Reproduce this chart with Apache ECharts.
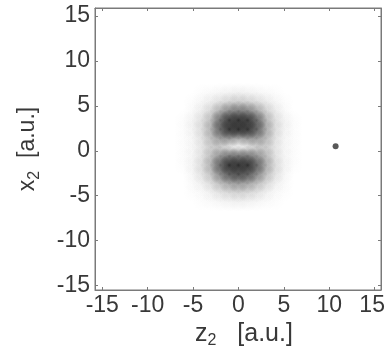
<!DOCTYPE html>
<html>
<head>
<meta charset="utf-8">
<script src="https://cdn.jsdelivr.net/npm/echarts@6/dist/echarts.min.js"></script>
<style>
  html, body { margin: 0; padding: 0; background: #fff; }
  #chart { width: 386px; height: 346px; }
</style>
</head>
<body>
<div id="chart"></div>
<script>
// axis ticks that carry a label
var tickVals = [-15, -10, -5, 0, 5, 10, 15];

// sample grid of the density blob (darkness 0..1)
var zGrid = [-6, -5, -4, -3, -2, -1, 0, 1, 2, 3, 4, 5, 6];
var xGrid = [6.4, 5.4, 4.4, 3.4, 2.4, 1.4, 0.4, -0.6, -1.6, -2.6, -3.6, -4.6, -5.6];
var density = [
  [0, 0, 0.01, 0.02, 0.03, 0.04, 0.05, 0.04, 0.03, 0.02, 0.01, 0, 0],
  [0, 0.01, 0.03, 0.06, 0.1, 0.14, 0.16, 0.14, 0.11, 0.07, 0.03, 0.01, 0],
  [0, 0.02, 0.06, 0.13, 0.28, 0.42, 0.48, 0.44, 0.3, 0.15, 0.07, 0.02, 0],
  [0.01, 0.04, 0.1, 0.22, 0.55, 0.84, 0.9, 0.86, 0.58, 0.25, 0.1, 0.04, 0.01],
  [0.01, 0.04, 0.11, 0.26, 0.6, 0.88, 0.92, 0.88, 0.62, 0.28, 0.11, 0.04, 0.01],
  [0.01, 0.03, 0.09, 0.21, 0.34, 0.38, 0.28, 0.36, 0.34, 0.23, 0.09, 0.03, 0.01],
  [0.01, 0.03, 0.08, 0.16, 0.15, 0.03, 0, 0.03, 0.14, 0.16, 0.08, 0.03, 0.01],
  [0.01, 0.03, 0.09, 0.21, 0.38, 0.52, 0.52, 0.52, 0.38, 0.23, 0.09, 0.03, 0.01],
  [0.01, 0.04, 0.11, 0.26, 0.6, 0.9, 0.92, 0.9, 0.6, 0.28, 0.11, 0.04, 0.01],
  [0, 0.03, 0.09, 0.19, 0.42, 0.64, 0.72, 0.64, 0.42, 0.21, 0.09, 0.03, 0],
  [0, 0.02, 0.05, 0.11, 0.21, 0.3, 0.34, 0.3, 0.21, 0.12, 0.05, 0.02, 0],
  [0, 0.01, 0.02, 0.05, 0.09, 0.12, 0.14, 0.12, 0.09, 0.05, 0.02, 0.01, 0],
  [0, 0, 0.01, 0.02, 0.03, 0.04, 0.05, 0.04, 0.03, 0.02, 0.01, 0, 0]
];

// the single point on the right
var dotPoint = [[10.7, 0.5]];

var blobData = [];
for (var i = 0; i < xGrid.length; i++) {
  for (var j = 0; j < zGrid.length; j++) {
    if (density[i][j] > 0) blobData.push([zGrid[j], xGrid[i], density[i][j]]);
  }
}

var blobR = 1.2; // spread of each sample, in axis units
function renderBlob(params, api) {
  var c = api.coord([api.value(0), api.value(1)]);
  var s = api.size([blobR, blobR]);
  var v = api.value(2);
  return {
    type: 'ellipse',
    shape: { cx: c[0], cy: c[1], rx: s[0], ry: s[1] },
    style: {
      fill: new echarts.graphic.RadialGradient(0.5, 0.5, 0.5, [
        { offset: 0, color: 'rgba(34,34,34,' + v + ')' },
        { offset: 0.45, color: 'rgba(34,34,34,' + (v * 0.64) + ')' },
        { offset: 1, color: 'rgba(34,34,34,0)' }
      ])
    }
  };
}

var txt = '#383838';
var fnt = 'Liberation Sans';
var lineCol = '#7a7a7a';

function tickOnly(v) {
  return tickVals.indexOf(Math.round(v * 100) / 100) >= 0;
}
function yLabel(v) { return tickOnly(v) ? String(v) : ''; }
function xLabel(v) {
  if (!tickOnly(v)) return '';
  // last label sits at the page edge, nudge it in a little
  return v === 15 ? '{e|15}' : String(v);
}

function nameRich(size) {
  return {
    n: { fontSize: size, color: txt, fontFamily: fnt, verticalAlign: 'top' },
    s: { fontSize: 16, color: txt, fontFamily: fnt, verticalAlign: 'top', padding: [11, 0, 0, 0] }
  };
}

function frameAxis(pos, lo, hi) {
  return {
    type: 'value', min: lo, max: hi, splitNumber: 6, position: pos,
    axisLine: { show: true, onZero: false, lineStyle: { color: lineCol } },
    axisTick: { show: true, inside: true, length: 3, lineStyle: { color: lineCol } },
    axisLabel: { show: false }, splitLine: { show: false }
  };
}

var zMin = -15.8, zMax = 15.7;
var xMin = -15.5, xMax = 15.9;

var chart = echarts.init(document.getElementById('chart'));
chart.setOption({
  backgroundColor: '#fff',
  animation: false,
  grid: { left: 95, right: 5, top: 8, bottom: 56, outerBoundsMode: 'none', containLabel: false,
    show: true, borderColor: lineCol, borderWidth: 1 },
  xAxis: [{
    type: 'value', min: zMin, max: zMax, splitNumber: 6, position: 'bottom',
    axisLine: { onZero: false, lineStyle: { color: lineCol } },
    axisTick: { inside: true, length: 3, lineStyle: { color: lineCol } },
    axisLabel: { color: txt, fontSize: 23, fontFamily: fnt, margin: 4, formatter: xLabel,
      showMinLabel: true, showMaxLabel: true, hideOverlap: false,
      rich: { e: { fontSize: 23, color: txt, fontFamily: fnt, padding: [0, 5, 0, 0] } } },
    splitLine: { show: false },
    name: '{n|z}{s|2}{n|   [a.u.]}', nameLocation: 'middle', nameGap: 31,
    nameTextStyle: { rich: nameRich(25), padding: [0, 0, 0, 12] }
  }, frameAxis('top', zMin, zMax)],
  yAxis: [{
    type: 'value', min: xMin, max: xMax, splitNumber: 6, position: 'left',
    axisLine: { show: true, onZero: false, lineStyle: { color: lineCol } },
    axisTick: { show: true, inside: true, length: 3, lineStyle: { color: lineCol } },
    axisLabel: { color: txt, fontSize: 23, fontFamily: fnt, margin: 5, formatter: yLabel,
      hideOverlap: false },
    splitLine: { show: false },
    name: '{n|x}{s|2}{n|  [a.u.]}', nameLocation: 'middle', nameGap: 52, nameRotate: 90,
    nameTextStyle: { rich: nameRich(23) }
  }, frameAxis('right', xMin, xMax)],
  series: [{
    type: 'custom',
    renderItem: renderBlob,
    data: blobData,
    clip: true
  }, {
    type: 'scatter',
    data: dotPoint,
    symbolSize: 6,
    itemStyle: { color: '#2e2e2e' }
  }]
});
</script>
</body>
</html>
